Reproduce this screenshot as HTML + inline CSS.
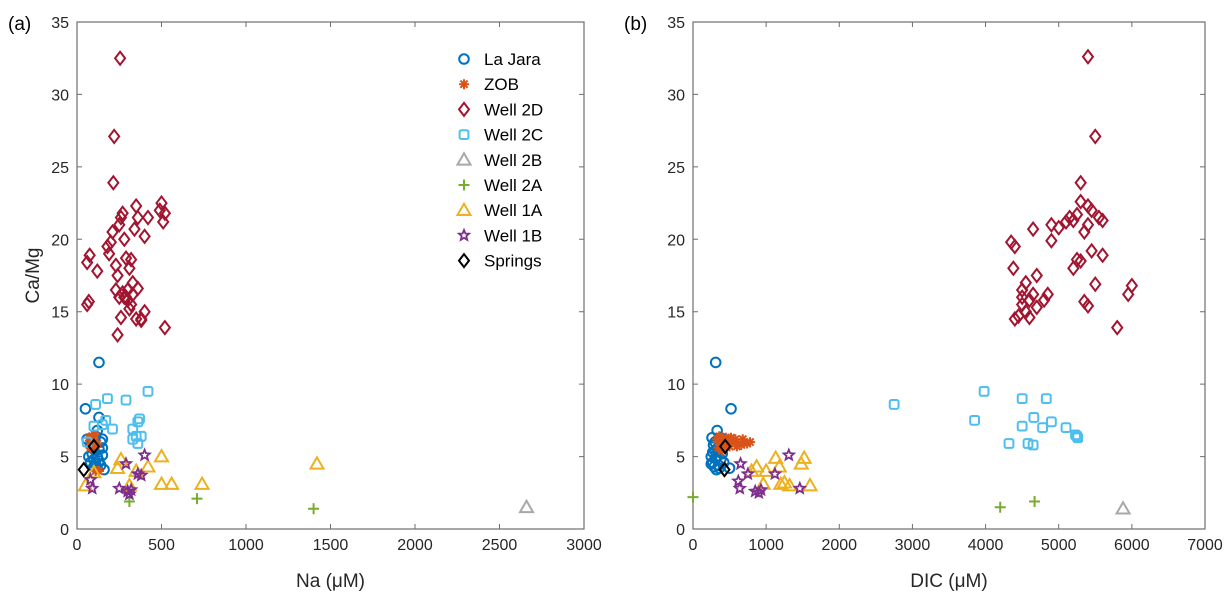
<!DOCTYPE html>
<html><head><meta charset="utf-8"><style>
body{margin:0;background:#fff;}
svg{display:block;font-family:"Liberation Sans",Arial,sans-serif;}
</style></head><body>
<svg id="chart" width="1232" height="597" viewBox="0 0 1232 597" xmlns="http://www.w3.org/2000/svg"></svg>
<script>
// ---------- data (panel a: Na, panel b: DIC) ----------
const seriesNames = ["La Jara","ZOB","Well 2D","Well 2C","Well 2B","Well 2A","Well 1A","Well 1B","Springs"];
const seriesColors = ["#0072BD","#D95319","#A2142F","#4DBEEE","#A8A8A8","#77AC30","#EDB120","#7E2F8E","#000000"];
const seriesMarkers = ["circle","asterisk","diamond","square","triangle","plus","triangle","star","diamond"];
const xTicksA = [0,500,1000,1500,2000,2500,3000];
const xTicksB = [0,1000,2000,3000,4000,5000,6000,7000];
const yTicks = [0,5,10,15,20,25,30,35];

const laJaraA = [[50,8.3],[130,11.5],[130,7.7],[60,6.2],[80,5.8],[90,5.2],[100,4.8],[110,4.5],[120,5.0],[130,5.5],[140,6.0],[150,6.2],[150,5.1],[100,4.3],[120,4.2],[140,4.4],[80,4.6],[90,5.9],[110,6.4],[160,4.1],[130,4.7],[150,5.6],[70,5.0],[120,6.8],[100,5.5]];
const laJaraB = [[310,11.5],[520,8.3],[330,6.8],[260,6.3],[280,5.8],[300,5.4],[250,5.0],[270,4.6],[290,4.3],[320,4.1],[350,4.4],[380,4.8],[400,5.2],[300,6.0],[340,5.6],[270,5.3],[310,4.9],[360,4.2],[420,4.6],[500,4.2],[250,4.5],[330,5.0],[450,5.8],[380,6.3]];
const zobA = [[70,6.3],[80,6.1],[90,6.4],[100,6.0],[110,5.8],[80,5.6],[95,6.2],[120,5.9],[105,6.5],[85,5.9],[130,4.0],[110,4.0]];
const zobB = [[330,6.2],[360,6.4],[400,6.0],[430,5.8],[470,6.1],[500,5.7],[540,6.0],[580,6.2],[620,5.9],[660,5.8],[700,6.0],[740,5.9],[780,6.0],[350,5.6],[450,6.3],[520,6.3],[600,5.7],[680,6.2],[400,5.4]];
const well2DA = [[60,15.5],[70,15.7],[60,18.4],[75,18.9],[120,17.8],[220,27.1],[215,23.9],[255,32.5],[180,19.5],[190,19.0],[200,19.8],[210,20.5],[230,18.2],[240,17.5],[250,21.0],[260,21.5],[270,21.8],[280,20.0],[290,16.0],[300,16.5],[310,18.0],[320,15.5],[330,17.0],[350,22.3],[360,21.5],[380,14.5],[400,15.0],[420,21.5],[500,22.5],[490,22.0],[510,21.2],[520,21.8],[520,13.9],[240,13.4],[260,14.6],[270,16.3],[280,16.0],[300,15.8],[310,15.2],[330,16.2],[350,14.5],[290,18.7],[320,18.6],[340,20.7],[360,16.6],[400,20.2],[230,16.5],[250,16.0],[380,14.4]];
const well2DB = [[4350,19.8],[4400,19.5],[4380,18.0],[4400,14.5],[4450,14.7],[4500,15.5],[4500,16.5],[4550,17.0],[4600,15.8],[4650,16.2],[4650,20.7],[4700,17.5],[4700,15.3],[4600,14.6],[4800,15.8],[4850,16.2],[4900,19.9],[4900,21.0],[5000,20.8],[5100,21.2],[5150,21.5],[5200,21.3],[5250,21.7],[5200,18.0],[5250,18.6],[5300,18.5],[5300,22.6],[5350,15.7],[5400,15.4],[5350,20.5],[5400,21.0],[5400,22.3],[5450,22.0],[5450,19.2],[5500,16.9],[5500,27.1],[5400,32.6],[5300,23.9],[5550,21.5],[5600,18.9],[5600,21.3],[5800,13.9],[5950,16.2],[6000,16.8],[4500,16.0],[4550,15.0]];
const well2CA = [[110,8.6],[180,9.0],[290,8.9],[420,9.5],[100,7.1],[170,7.5],[210,6.9],[330,6.9],[360,7.4],[370,7.6],[350,6.4],[360,5.9],[330,6.2],[380,6.4],[150,7.2],[60,6.0]];
const well2CB = [[2750,8.6],[3850,7.5],[3980,9.5],[4500,9.0],[4830,9.0],[4320,5.9],[4500,7.1],[4580,5.9],[4650,5.8],[4660,7.7],[4780,7.0],[4900,7.4],[5100,7.0],[5230,6.5],[5260,6.3],[5250,6.4]];
const well2BA = [[2660,1.5]];
const well2BB = [[5880,1.4]];
const well2AA = [[310,1.9],[710,2.1],[1400,1.4]];
const well2AB = [[0,2.2],[4200,1.5],[4670,1.9]];
const well1AA = [[260,4.8],[240,4.2],[310,3.0],[350,4.0],[420,4.3],[500,5.0],[500,3.1],[560,3.1],[740,3.1],[1420,4.5],[50,3.0],[100,3.9]];
const well1AB = [[800,4.0],[870,4.3],[1000,4.0],[960,3.1],[1130,4.9],[1180,4.3],[1200,3.1],[1250,3.2],[1320,3.0],[1480,4.5],[1520,4.9],[1600,3.0]];
const well1BA = [[80,3.4],[90,2.8],[250,2.8],[300,2.6],[310,2.4],[320,2.7],[290,4.5],[360,3.8],[380,3.7],[400,5.1]];
const well1BB = [[620,3.3],[650,4.5],[640,2.8],[750,3.8],[850,2.6],[900,2.5],[930,2.7],[1120,3.8],[1310,5.1],[1460,2.8]];
const springsA = [[40,4.1],[100,5.7]];
const springsB = [[430,4.1],[440,5.7]];

const dataA = [laJaraA,zobA,well2DA,well2CA,well2BA,well2AA,well1AA,well1BA,springsA];
const dataB = [laJaraB,zobB,well2DB,well2CB,well2BB,well2AB,well1AB,well1BB,springsB];

const NS="http://www.w3.org/2000/svg";
const svg=document.getElementById('chart');
function el(tag,attrs,parent){const e=document.createElementNS(NS,tag);for(const k in attrs)e.setAttribute(k,attrs[k]);(parent||svg).appendChild(e);return e;}

function marker(g,type,cx,cy,color){
  const sw=2;let e;
  if(type==="circle"){
    e=el('circle',{cx,cy,r:4.8,fill:'none',stroke:color,'stroke-width':sw},g);
  }else if(type==="diamond"){
    e=el('polygon',{points:`${cx},${cy-6.5} ${cx+5},${cy} ${cx},${cy+6.5} ${cx-5},${cy}`,fill:'none',stroke:color,'stroke-width':sw},g);
  }else if(type==="square"){
    e=el('rect',{x:cx-4.4,y:cy-4.4,width:8.8,height:8.8,rx:1.8,fill:'none',stroke:color,'stroke-width':sw},g);
  }else if(type==="triangle"){
    e=el('polygon',{points:`${cx},${cy-6.5} ${cx+6.5},${cy+4.8} ${cx-6.5},${cy+4.8}`,fill:'none',stroke:color,'stroke-width':sw},g);
  }else if(type==="plus"){
    e=el('path',{d:`M${cx-5.5},${cy}H${cx+5.5}M${cx},${cy-5.5}V${cy+5.5}`,stroke:color,'stroke-width':sw},g);
  }else if(type==="asterisk"){
    e=el('path',{d:`M${cx-5},${cy}H${cx+5}M${cx},${cy-5}V${cy+5}M${cx-3.6},${cy-3.6}L${cx+3.6},${cy+3.6}M${cx-3.6},${cy+3.6}L${cx+3.6},${cy-3.6}`,stroke:color,'stroke-width':sw},g);
  }else if(type==="star"){
    let p=[];for(let i=0;i<10;i++){const r=i%2?2.4:5.4;const a=-Math.PI/2+i*Math.PI/5;p.push((cx+r*Math.cos(a)).toFixed(1)+","+(cy+r*Math.sin(a)).toFixed(1));}
    e=el('polygon',{points:p.join(' '),fill:'none',stroke:color,'stroke-width':1.8},g);
  }
  return e;
}

function panel(id,x0,x1,xmax,xTicks,data,xlabel,tag,tagX,showY){
  const y0=529,y1=22,ymax=35;
  const sx=v=>x0+(v/xmax)*(x1-x0);
  const sy=v=>y0-(v/ymax)*(y0-y1);
  const g=el('g',{});
  
  
  const box=el('rect',{x:x0,y:y1,width:x1-x0,height:y0-y1,fill:'none',stroke:'#6e6e6e','stroke-width':1.2},g);
  
  
  xTicks.forEach(t=>{
    const x=sx(t);
    el('path',{d:`M${x},${y0}V${y0-5}M${x},${y1}V${y1+5}`,stroke:'#6e6e6e','stroke-width':1},g);
    const tx=el('text',{x:x,y:y0+21,'text-anchor':'middle','font-size':16,fill:'#262626'},g);
    tx.textContent=t;
    
    
  });
  yTicks.forEach(t=>{
    const y=sy(t);
    el('path',{d:`M${x0},${y}H${x0+5}M${x1},${y}H${x1-5}`,stroke:'#6e6e6e','stroke-width':1},g);
    const ty=el('text',{x:x0-8,y:y+6,'text-anchor':'end','font-size':16,fill:'#262626'},g);
    ty.textContent=t;
    
    
  });
  const xl=el('text',{x:(x0+x1)/2,y:587,'text-anchor':'middle','font-size':19,fill:'#262626'},g);
  xl.textContent=xlabel;
  
  
  if(showY){
    const yl=el('text',{x:0,y:0,'text-anchor':'middle','font-size':19,fill:'#262626',transform:`translate(${x0-38},${(y0+y1)/2}) rotate(-90)`},g);
    yl.textContent='Ca/Mg';
    
    
  }
  const tg=el('text',{x:tagX,y:30,'font-size':19,fill:'#000'},g);
  tg.textContent=tag;
  
  
  data.forEach((pts,si)=>{
    const sg=el('g',{},g);
    
    
    pts.forEach(p=>{
      const m=marker(sg,seriesMarkers[si],sx(p[0]),sy(p[1]),seriesColors[si]);
      
      
    });
  });
  return g;
}

panel('panel-a',77,584,3000,xTicksA,dataA,'Na (\u03bcM)','(a)',8,true);
panel('panel-b',693,1205,7000,xTicksB,dataB,'DIC (\u03bcM)','(b)',624,false);

const lg=el('g',{});


seriesNames.forEach((n,i)=>{
  const y=59+i*25.2;
  const eg=el('g',{},lg);
  
  
  marker(eg,seriesMarkers[i],464,y,seriesColors[i]);
  const t=el('text',{x:484,y:y+6,'font-size':17,fill:'#000'},eg);
  t.textContent=n;
});
</script>
</body></html>
